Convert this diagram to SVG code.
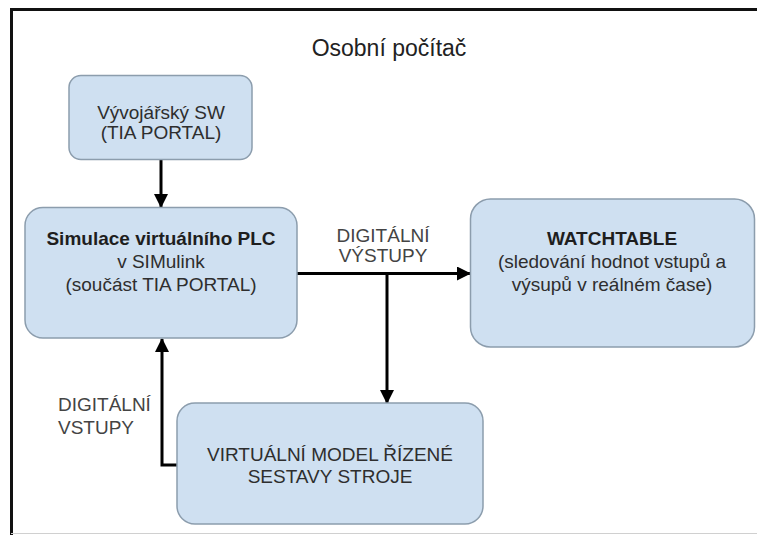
<svg xmlns="http://www.w3.org/2000/svg" width="757" height="535" viewBox="0 0 757 535">
<defs>
<marker id="ah" markerWidth="14" markerHeight="14" viewBox="0 0 14 14" refX="13" refY="7" orient="auto" markerUnits="userSpaceOnUse">
<path d="M0,0 L14,7 L0,14 Z" fill="#000"/>
</marker>
<style>
.box{fill:#cfe0f1;stroke:#8c9dad;stroke-width:1.5}
.t{font-family:"Liberation Sans",Arial,sans-serif;font-size:19px;fill:#2e2e2e;text-anchor:middle}
.b{font-weight:bold;fill:#1e1e1e}
.lbl{font-family:"Liberation Sans",Arial,sans-serif;font-size:19px;fill:#444}
.c{fill:none;stroke:#000;stroke-width:3}
</style>
</defs>
<rect width="757" height="535" fill="#fff"/>
<g id="frame">
<path d="M757,9.5 H11.5 V535" fill="none" stroke="#111" stroke-width="3"/>
<line x1="11" y1="533.5" x2="757" y2="533.5" stroke="#d0d0d0" stroke-width="1"/>
<text x="389" y="56" font-family="'Liberation Sans',Arial,sans-serif" font-size="23" fill="#222" text-anchor="middle">Osobní počítač</text>
</g>
<g id="connectors">
<line class="c" x1="161" y1="159" x2="161" y2="207" marker-end="url(#ah)"/>
<line class="c" x1="297" y1="273.5" x2="470" y2="273.5" marker-end="url(#ah)"/>
<line class="c" x1="387" y1="273.5" x2="387" y2="403" marker-end="url(#ah)"/>
<polyline class="c" points="177,465 162,465 162,339" marker-end="url(#ah)"/>
<text class="lbl" x="383" y="242" text-anchor="middle">DIGITÁLNÍ</text>
<text class="lbl" x="383" y="262" text-anchor="middle">VÝSTUPY</text>
<text class="lbl" x="58" y="411">DIGITÁLNÍ</text>
<text class="lbl" x="58" y="434">VSTUPY</text>
</g>
<g id="node-vyvojarsky">
<rect class="box" x="69" y="75.5" width="183" height="84" rx="12"/>
<text class="t" x="161" y="119">Vývojářský SW</text>
<text class="t" x="161" y="139">(TIA PORTAL)</text>
</g>
<g id="node-simulace">
<rect class="box" x="25" y="207.5" width="272" height="130.5" rx="18"/>
<text class="t b" x="161" y="245">Simulace virtuálního PLC</text>
<text class="t" x="161" y="268">v SIMulink</text>
<text class="t" x="161" y="291">(součást TIA PORTAL)</text>
</g>
<g id="node-watchtable">
<rect class="box" x="470.5" y="199" width="284" height="148" rx="20"/>
<text class="t b" x="612" y="245">WATCHTABLE</text>
<text class="t" x="612" y="268">(sledování hodnot vstupů a</text>
<text class="t" x="612" y="291">výsupů v reálném čase)</text>
</g>
<g id="node-model">
<rect class="box" x="177" y="403" width="306" height="121" rx="18"/>
<text class="t" x="330" y="461">VIRTUÁLNÍ MODEL ŘÍZENÉ</text>
<text class="t" x="330" y="483">SESTAVY STROJE</text>
</g>
</svg>
